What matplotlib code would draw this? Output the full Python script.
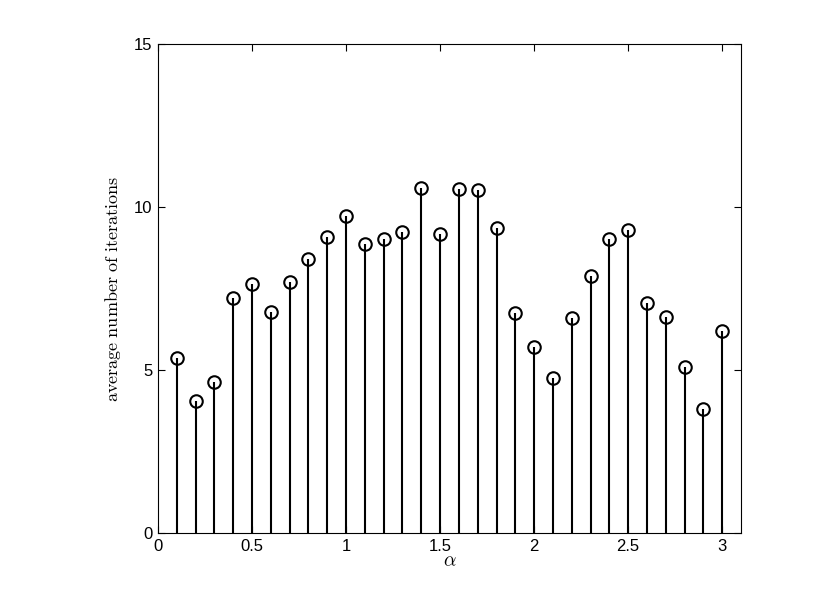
import matplotlib
matplotlib.use("Agg")
import matplotlib.pyplot as plt

plt.rcParams['mathtext.fontset'] = 'cm'
plt.rcParams['font.family'] = ['Liberation Sans', 'DejaVu Sans']

alpha = [0.1, 0.2, 0.3, 0.4, 0.5, 0.6, 0.7, 0.8, 0.9, 1.0,
         1.1, 1.2, 1.3, 1.4, 1.5, 1.6, 1.7, 1.8, 1.9, 2.0,
         2.1, 2.2, 2.3, 2.4, 2.5, 2.6, 2.7, 2.8, 2.9, 3.0]
avg_iter = [5.36, 4.05, 4.64, 7.22, 7.65, 6.78, 7.69, 8.40, 9.09, 9.73,
            8.86, 9.01, 9.25, 10.57, 9.17, 10.55, 10.53, 9.37, 6.74, 5.70,
            4.76, 6.60, 7.89, 9.03, 9.29, 7.07, 6.63, 5.08, 3.80, 6.19]

fig = plt.figure(figsize=(8.17, 5.99), dpi=100)
ax = fig.add_axes([0.1934, 0.110, 0.7136, 0.8165])

markerline, stemlines, baseline = ax.stem(alpha, avg_iter, linefmt='k-', markerfmt='ko', basefmt=' ')
markerline.set_markerfacecolor('none')
markerline.set_markersize(9)
markerline.set_markeredgewidth(1.5)
stemlines.set_linewidth(1.5)

ax.set_xlim(0, 3.1)
ax.set_ylim(0, 15)
ax.set_xticks([0, 0.5, 1, 1.5, 2, 2.5, 3])
ax.set_xticklabels(['0', '0.5', '1', '1.5', '2', '2.5', '3'])
ax.set_yticks([0, 5, 10, 15])
ax.tick_params(direction='in', top=True, right=True, labelsize=12, length=5, pad=4)
for s in ax.spines.values():
    s.set_linewidth(0.8)

ax.set_xlabel(r'$\alpha$', fontsize=14, labelpad=0)
ax.set_ylabel(r'$\mathrm{average\ number\ of\ iterations}$', fontsize=13, labelpad=8)

fig.savefig("out.png", dpi=100)
